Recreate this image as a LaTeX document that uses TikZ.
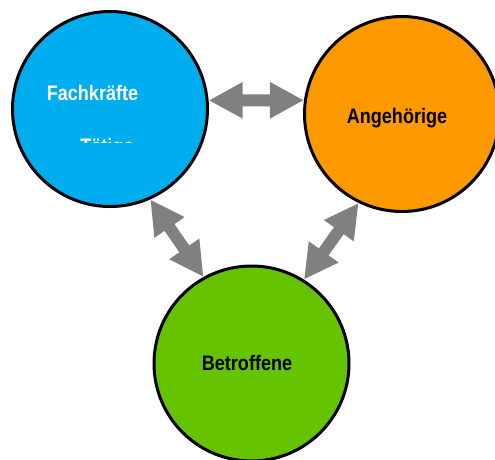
\documentclass[tikz,border=0pt]{standalone}
\usepackage{xcolor}
\usepackage{fontspec}
\usepackage{tikz}
\newfontfamily\lblfont[FakeStretch=0.86]{Liberation Sans}
\usetikzlibrary{arrows.meta}
\definecolor{fachblue}{RGB}{0,174,239}
\definecolor{angeorange}{RGB}{255,153,0}
\definecolor{betrgreen}{RGB}{102,195,0}
\definecolor{linkgray}{RGB}{128,128,128}
\tikzstyle{group} = [circle, draw=black, line width=3pt, minimum size=195pt, inner sep=0pt]
\tikzstyle{lbl} = [anchor=base, inner sep=0pt, font=\lblfont\bfseries\fontsize{21}{25}\selectfont]
\tikzstyle{link} = [draw=linkgray, line width=12pt, {Triangle[length=34pt,width=34pt]}-{Triangle[length=34pt,width=34pt]}]

\begin{document}
\begin{tikzpicture}[x=1pt, y=-1pt]
    \useasboundingbox (0,0) rectangle (495,459);
    \clip (0,0) rectangle (495,459);

    % Nodes
    \node[group, fill=fachblue] (fach) at (110,109) {};
    \node[group, fill=angeorange] (ange) at (402,114) {};
    \node[group, fill=betrgreen] (betr) at (251.5,363.5) {};

    % Labels
    \node[lbl, text=white] (fachlbl) at (92.5,100) {Fachkräfte};
    \begin{scope}
        \clip (0,0) rectangle (495,142);
        \node[lbl, text=white] (taetlbl) at (107,153) {Tätige};
    \end{scope}
    \node[lbl] (angelbl) at (397,123) {Angehörige};
    \node[lbl] (betrlbl) at (247,370) {Betroffene};

    % Arrows
    \draw[link] (fach.5) -- (ange.172);
    \draw[link] (fach.-66) -- (betr.119);
    \draw[link] (ange.-116) -- (betr.58);

\end{tikzpicture}
\end{document}
